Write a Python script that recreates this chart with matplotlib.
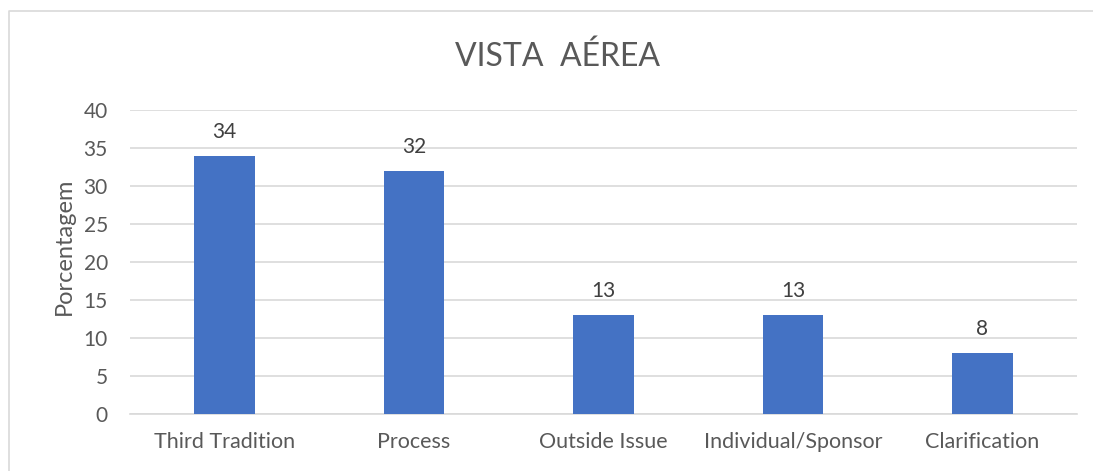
import matplotlib.pyplot as plt
from matplotlib.lines import Line2D

categories = ['Third Tradition', 'Process', 'Outside Issue', 'Individual/Sponsor', 'Clarification']
values = [34, 32, 13, 13, 8]
yticks = [0, 5, 10, 15, 20, 25, 30, 35, 40]

plt.rcParams['font.family'] = ['Lato', 'DejaVu Sans']

W, H = 1093, 471
fig = plt.figure(figsize=(W / 100, H / 100), dpi=100)

# chart area border: only top and left edges show in the crop
x0, y0 = 9 / W, 1 - 11 / H
fig.lines.append(Line2D([x0, x0, 1.0], [0.0, y0, y0], transform=fig.transFigure,
                        color='#D9D9D9', linewidth=1.2))

ax = fig.add_axes([130 / W, 1 - 414 / H, (1077 - 130) / W, (414 - 110) / H])
bars = ax.bar(range(len(categories)), values, width=0.32, color='#4472C4', zorder=3)

ax.set_xlim(-0.5, len(categories) - 0.5)
ax.set_ylim(0, 40)
ax.set_yticks(yticks)
ax.set_xticks(range(len(categories)))
ax.set_xticklabels(categories, fontsize=15.5)
ax.yaxis.grid(True, color='#D9D9D9', linewidth=1.2, zorder=0)
for s in ['top', 'right', 'left']:
    ax.spines[s].set_visible(False)
ax.spines['bottom'].set_color('#D9D9D9')
ax.spines['bottom'].set_linewidth(1.2)
ax.tick_params(length=0, colors='#595959')
ax.tick_params(axis='y', pad=16, labelsize=15)
ax.tick_params(axis='x', pad=13)

for b, v in zip(bars, values):
    ax.annotate(str(v), (b.get_x() + b.get_width() / 2, v), xytext=(0, 10),
                textcoords='offset points', ha='center', va='bottom',
                fontsize=15, color='#404040')

ax.set_ylabel('Porcentagem', fontsize=17, color='#595959')
ax.yaxis.set_label_coords((75 - 130) / 947, (414 - 246) / 304)
fig.text(557 / W, 1 - 57 / H, 'VISTA  AÉREA', ha='center', va='center',
         fontsize=23, color='#595959')

fig.savefig('out.png', dpi=100)
